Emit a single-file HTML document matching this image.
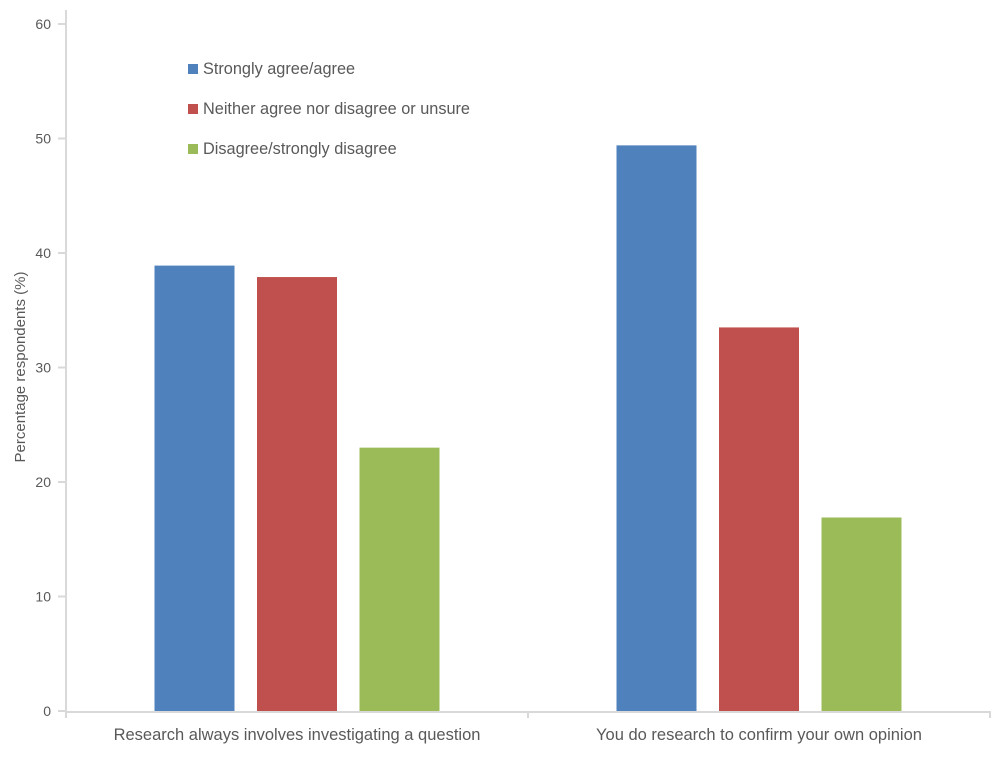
<!DOCTYPE html>
<html><head><meta charset="utf-8"><style>
body{margin:0;background:#fff;}
svg{display:block;font-family:"Liberation Sans",sans-serif;}
</style></head><body>
<svg id="chart" width="1000" height="757"></svg>
<script>
const categories=["Research always involves investigating a question","You do research to confirm your own opinion"];
const seriesNames=["Strongly agree/agree","Neither agree nor disagree or unsure","Disagree/strongly disagree"];
const seriesColors=["#4f81bd","#c0504d","#9bbb59"];
const agreeValues=[38.9,49.4];
const neitherValues=[37.9,33.5];
const disagreeValues=[23.0,16.9];
const yTicks=[0,10,20,30,40,50,60];
const series=[agreeValues,neitherValues,disagreeValues];
const svg=document.getElementById('chart');
const NS='http://www.w3.org/2000/svg';
function mk(t,a,p){const e=document.createElementNS(NS,t);for(const k in a)e.setAttribute(k,a[k]);(p||svg).appendChild(e);return e;}
const y0=711,yTop=24,yMax=60;
function y(v){return y0-(v/yMax)*(y0-yTop);}
const xL=66,xR=990,gW=(xR-xL)/categories.length;
function groupX(i){return xL+gW*i;}
const bw=80,step=102.5;
let e=mk('line',{x1:xL,y1:10,x2:xL,y2:y0+1,stroke:'#d9d9d9','stroke-width':2});

e=mk('line',{x1:xL-1,y1:y0+1,x2:xR,y2:y0+1,stroke:'#d9d9d9','stroke-width':2});

yTicks.forEach(t=>{
 let l=mk('line',{x1:58,y1:y(t),x2:xL,y2:y(t),stroke:'#d9d9d9','stroke-width':2});
 
 let tx=mk('text',{x:51,y:y(t)+5,'text-anchor':'end','font-size':14,fill:'#595959'});
 tx.textContent=t;
 
});
for(let i=0;i<=categories.length;i++){
 let l=mk('line',{x1:groupX(i),y1:y0,x2:groupX(i),y2:y0+7,stroke:'#d9d9d9','stroke-width':2});
 
}
let yt=mk('text',{x:0,y:0,transform:'translate(25,367) rotate(-90)','text-anchor':'middle','font-size':15,fill:'#595959'});
yt.textContent='Percentage respondents (%)';

categories.forEach((c,i)=>{
 const cx=groupX(i)+gW/2;
 series.forEach((s,j)=>{
  const bx=cx-bw/2+(j-1)*step;
  let r=mk('rect',{x:bx,y:y(s[i]),width:bw,height:y0-y(s[i]),fill:seriesColors[j]});
  
 });
 let t=mk('text',{x:cx,y:740,'text-anchor':'middle','font-size':16.5,fill:'#595959'});
 t.textContent=c;
 
});
seriesNames.forEach((n,j)=>{
 const ly=69+j*40;
 let g=mk('g',{});
 
 mk('rect',{x:188,y:ly-5,width:10,height:10,fill:seriesColors[j]},g);
 let t=mk('text',{x:203,y:ly+5,'font-size':16.3,fill:'#595959'},g);
 t.textContent=n;
});
</script>
</body></html>
